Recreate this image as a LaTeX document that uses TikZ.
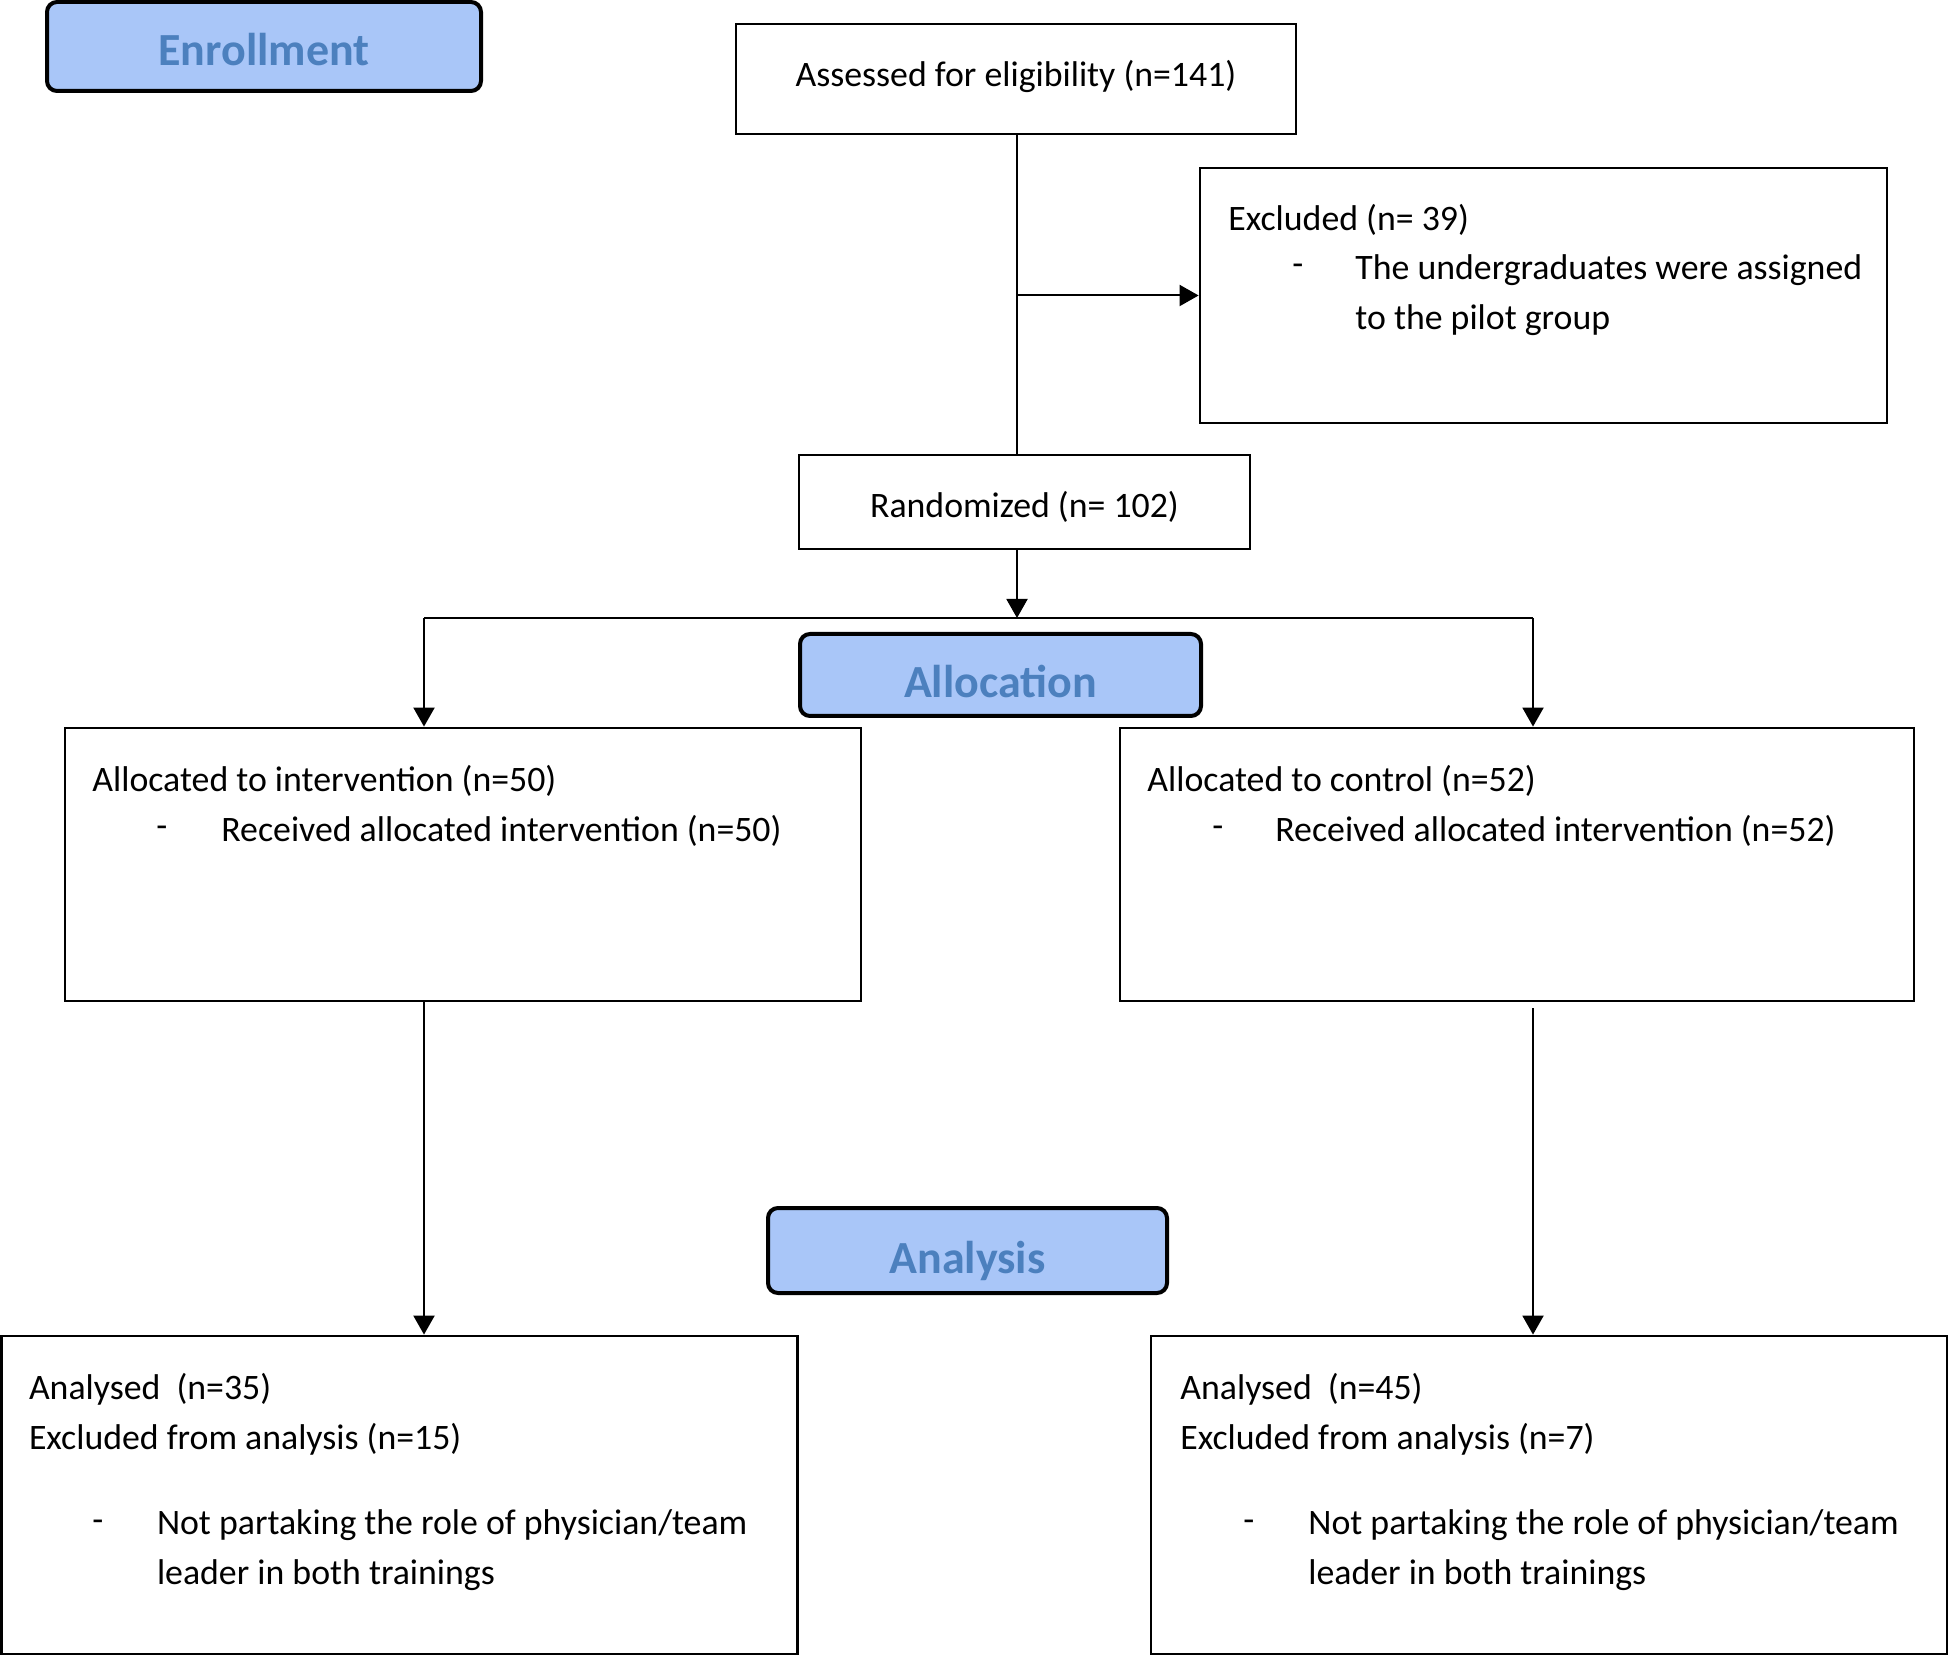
\documentclass[tikz,border=0pt]{standalone}
\usepackage{fontspec}
\setmainfont{Carlito}
\usetikzlibrary{arrows.meta}
\definecolor{headfill}{RGB}{169,198,248}
\definecolor{headtext}{RGB}{76,128,190}
\begin{document}
\begin{tikzpicture}[x=0.5pt,y=-0.5pt,
  box/.style={draw=black,line width=1.4pt,inner sep=0pt},
  head/.style={draw=black,line width=2pt,rounded corners=5pt,fill=headfill,inner sep=0pt},
  headtxt/.style={inner sep=0pt,text=headtext,font=\fontsize{23}{27}\selectfont\bfseries},
  ctxt/.style={inner sep=0pt,font=\fontsize{17.9}{21}\selectfont},
  txt/.style={anchor=west,inner sep=0pt,font=\fontsize{17.9}{21}\selectfont},
  conn/.style={line width=1pt},
  arr/.style={line width=1pt,-{Triangle[length=9.5pt,width=10.5pt]}}]
\useasboundingbox (0,0) rectangle (1949,1657);
% boxes
\node[head,minimum width={434*0.5pt},minimum height={89*0.5pt}] (enr) at (264,46.5) {};
\node[box,minimum width={560*0.5pt},minimum height={110*0.5pt}] (assess) at (1016,79) {};
\node[box,minimum width={687*0.5pt},minimum height={255*0.5pt}] (excl) at (1543.5,295.5) {};
\node[box,minimum width={451*0.5pt},minimum height={94*0.5pt}] (rand) at (1024.5,502) {};
\node[head,minimum width={401*0.5pt},minimum height={82*0.5pt}] (alloc) at (1000.5,675) {};
\node[box,minimum width={796*0.5pt},minimum height={273*0.5pt}] (lalloc) at (463,864.5) {};
\node[box,minimum width={794*0.5pt},minimum height={273*0.5pt}] (ralloc) at (1517,864.5) {};
\node[head,minimum width={399*0.5pt},minimum height={85*0.5pt}] (anal) at (967.5,1250.5) {};
\node[box,minimum width={796*0.5pt},minimum height={318*0.5pt}] (lan) at (399.5,1495) {};
\node[box,minimum width={796*0.5pt},minimum height={318*0.5pt}] (ran) at (1549,1495) {};
% centred texts
\node[headtxt] (enrt) at ([yshift=-1.3pt]enr.center) {Enrollment};
\node[headtxt] (alloct) at ([yshift=-3.2pt]alloc.center) {Allocation};
\node[headtxt] (analt) at ([yshift=-5pt]anal.center) {Analysis};
\node[ctxt] (assesst) at ([yshift=1.2pt]assess.center) {Assessed for eligibility (n=141)};
\node[ctxt] (randt) at ([yshift=-2.5pt]rand.center) {Randomized (n= 102)};
% texts
\node[txt] (ex1) at (1228,220) {Excluded (n= 39)};
\node[txt] (ex2) at (1292,270) {-};
\node[txt] (ex3) at (1355,270) {The undergraduates were assigned};
\node[txt] (ex4) at (1355,320) {to the pilot group};
\node[txt] (la1) at (92,781) {Allocated to intervention (n=50)};
\node[txt] (la2) at (156,832) {-};
\node[txt] (la3) at (221,831) {Received allocated intervention (n=50)};
\node[txt] (ra1) at (1147,781) {Allocated to control (n=52)};
\node[txt] (ra2) at (1212,832) {-};
\node[txt] (ra3) at (1275,831) {Received allocated intervention (n=52)};
\node[txt] (ln1) at (28.6,1389) {Analysed\ \ (n=35)};
\node[txt] (ln2) at (28.6,1439) {Excluded from analysis (n=15)};
\node[txt] (ln3) at (92,1526) {-};
\node[txt] (ln4) at (156.6,1525) {Not partaking the role of physician/team};
\node[txt] (ln5) at (156.6,1575) {leader in both trainings};
\node[txt] (rn1) at (1180,1389) {Analysed\ \ (n=45)};
\node[txt] (rn2) at (1180,1439) {Excluded from analysis (n=7)};
\node[txt] (rn3) at (1243,1526) {-};
\node[txt] (rn4) at (1308,1525) {Not partaking the role of physician/team};
\node[txt] (rn5) at (1308,1575) {leader in both trainings};
% connectors
\coordinate (split) at (1017,618);
\coordinate (lsplit) at (424,618);
\coordinate (rsplit) at (1533,618);
\draw[conn] (assess.south -| split) -- (split |- rand.north);
\draw[arr] (split |- excl.west) -- (excl.west);
\draw[arr] (split |- rand.south) -- (split);
\draw[conn] (lsplit) -- (rsplit);
\draw[arr] (lsplit) -- (lsplit |- lalloc.north);
\draw[arr] (rsplit) -- (rsplit |- ralloc.north);
\draw[arr] (lsplit |- lalloc.south) -- (lsplit |- lan.north);
\draw[arr] ([yshift=-3pt]rsplit |- ralloc.south) -- (rsplit |- ran.north);
\end{tikzpicture}
\end{document}
